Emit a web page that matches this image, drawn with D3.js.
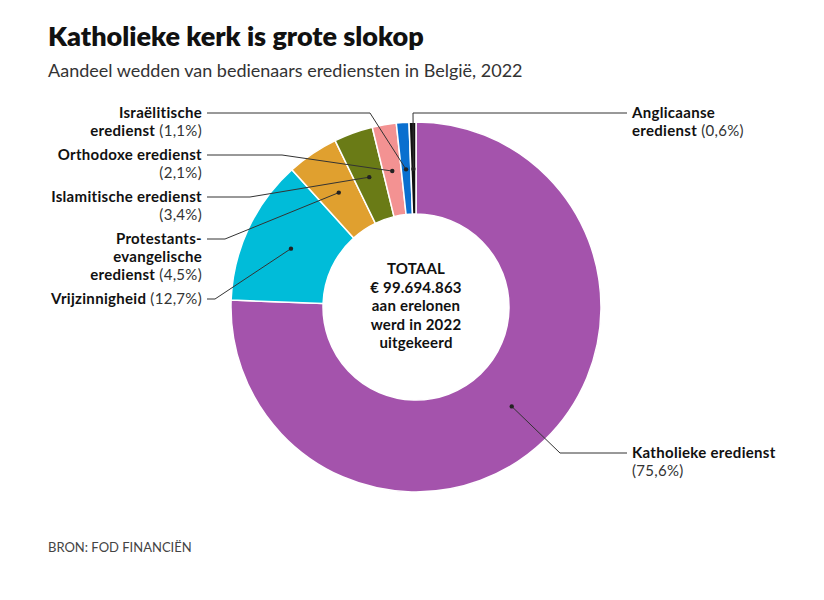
<!DOCTYPE html><html><head><meta charset="utf-8"><script src="https://cdn.jsdelivr.net/npm/d3@7"></script>
<style>body{margin:0;background:#fff;font-family:Lato,"Open Sans",sans-serif}</style></head><body><svg width="824" height="600"></svg>
<script>
const categories=["Katholieke eredienst","Vrijzinnigheid","Protestants-evangelische eredienst","Islamitische eredienst","Orthodoxe eredienst","Israëlitische eredienst","Anglicaanse eredienst"];
const values=[75.6,12.7,4.5,3.4,2.1,1.1,0.6];
const colors=["#a453ac","#00bcd9","#e0a02f","#6a7b16","#f39292","#0a6fcf","#111111"];
const labels=[
 {lines:[["Katholieke eredienst",""],["","(75,6%)"]],x:632,y:458,anchor:"start",lx:[627,560]},
 {lines:[["Vrijzinnigheid"," (12,7%)"]],x:202,y:304,anchor:"end",lx:[207,215]},
 {lines:[["Protestants-",""],["evangelische",""],["eredienst"," (4,5%)"]],x:202,y:244,anchor:"end",lx:[207,225],ly:239},
 {lines:[["Islamitische eredienst",""],["","(3,4%)"]],x:202,y:202,anchor:"end",lx:[207,250],ly:197},
 {lines:[["Orthodoxe eredienst",""],["","(2,1%)"]],x:202,y:160,anchor:"end",lx:[207,282],ly:155},
 {lines:[["Israëlitische",""],["eredienst"," (1,1%)"]],x:202,y:118,anchor:"end",lx:[207,370],ly:113},
 {lines:[["Anglicaanse",""],["eredienst"," (0,6%)"]],x:632,y:118,anchor:"start",lx:[627,413],ly:113}
];
const svg=d3.select("svg");
svg.append("text").attr("x",48).attr("y",46).attr("font-size",27).attr("font-weight",800).attr("fill","#111").text("Katholieke kerk is grote slokop");
svg.append("text").attr("x",48).attr("y",77).attr("font-size",18).attr("fill","#333").text("Aandeel wedden van bedienaars erediensten in België, 2022");
svg.append("text").attr("x",48).attr("y",552).attr("font-size",13).attr("fill","#444").text("BRON: FOD FINANCIËN");
const cx=416,cy=307,R=185,r=93;
const pie=d3.pie().sort(null).value(d=>d)(values);
const arc=d3.arc().innerRadius(r).outerRadius(R);
const g=svg.append("g").attr("transform",`translate(${cx},${cy})`);
g.selectAll("path").data(pie).join("path").attr("d",arc).attr("fill",(d,i)=>colors[i]).attr("stroke","#fff").attr("stroke-width",1.5);
const mid=d3.arc().innerRadius(138).outerRadius(138);
pie.forEach((d,i)=>{
 const L=labels[i];const c=mid.centroid(d);
 const px=cx+c[0],py=cy+c[1];
 const ly=L.ly!==undefined?L.ly:L.y-5;
 svg.append("polyline").attr("points",`${L.lx[0]},${ly} ${L.lx[1]},${ly} ${px},${py}`).attr("fill","none").attr("stroke","#333").attr("stroke-width",1);
 svg.append("circle").attr("cx",px).attr("cy",py).attr("r",2.2).attr("fill","#222");
 L.lines.forEach((ln,j)=>{
  const t=svg.append("text").attr("x",L.x).attr("y",L.y+j*18).attr("text-anchor",L.anchor).attr("font-size",15).attr("letter-spacing",0.3).attr("fill","#111");
  if(ln[0])t.append("tspan").attr("font-weight",700).text(ln[0]);
  if(ln[1])t.append("tspan").attr("fill","#333").text(ln[1]);
 });
});
["TOTAAL","€ 99.694.863","aan erelonen","werd in 2022","uitgekeerd"].forEach((s,i)=>{
 svg.append("text").attr("x",cx).attr("y",274+i*18.5).attr("text-anchor","middle").attr("font-size",15).attr("letter-spacing",0.2).attr("font-weight",700).attr("fill","#111").text(s);
});
</script></body></html>
